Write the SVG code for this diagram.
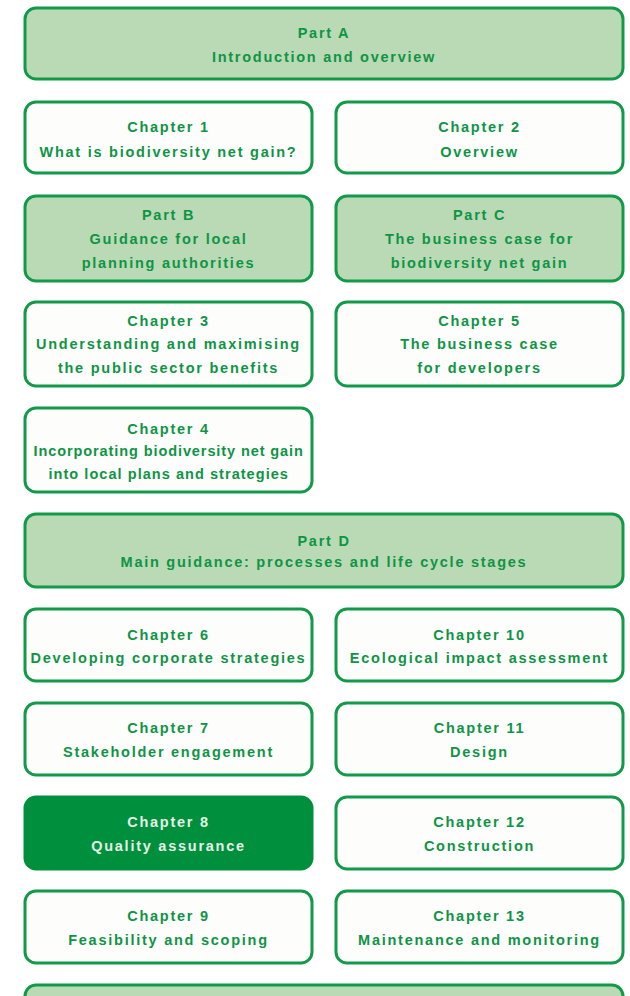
<svg xmlns="http://www.w3.org/2000/svg" width="630" height="996" viewBox="0 0 630 996">
  <style>
    .part rect { fill: #b9dab4; stroke: #13994a; stroke-width: 3; }
    .chap rect { fill: #fdfdfb; stroke: #13994a; stroke-width: 3; }
    .hl rect { fill: #008f3d; stroke: #008f3d; stroke-width: 3; }
    text { font-family: "Liberation Sans", Arial, sans-serif; font-size: 14.5px; font-weight: bold; letter-spacing: 1.75px; fill: #0f9446; text-anchor: middle; dominant-baseline: central; }
    .tight { letter-spacing: 0.6px; }
    .hl text { fill: #e4f3e6; }
  </style>

  <!-- Part A -->
  <g id="partA" class="part">
    <rect x="25" y="8" width="598" height="71" rx="11"/>
    <text x="324" y="33">Part A</text>
    <text x="324" y="57">Introduction and overview</text>
  </g>

  <g id="ch1" class="chap">
    <rect x="25" y="102" width="287" height="71" rx="11"/>
    <text x="168.5" y="127">Chapter 1</text>
    <text x="168.5" y="152">What is biodiversity net gain?</text>
  </g>
  <g id="ch2" class="chap">
    <rect x="336" y="102" width="287" height="71" rx="11"/>
    <text x="479.5" y="127">Chapter 2</text>
    <text x="479.5" y="152">Overview</text>
  </g>

  <!-- Parts B and C -->
  <g id="partB" class="part">
    <rect x="25" y="196" width="287" height="85" rx="11"/>
    <text x="168.5" y="215">Part B</text>
    <text x="168.5" y="239">Guidance for local</text>
    <text x="168.5" y="263">planning authorities</text>
  </g>
  <g id="partC" class="part">
    <rect x="336" y="196" width="287" height="85" rx="11"/>
    <text x="479.5" y="215">Part C</text>
    <text x="479.5" y="239">The business case for</text>
    <text x="479.5" y="263">biodiversity net gain</text>
  </g>

  <g id="ch3" class="chap">
    <rect x="25" y="302" width="287" height="84" rx="11"/>
    <text x="168.5" y="321">Chapter 3</text>
    <text x="168.5" y="344">Understanding and maximising</text>
    <text x="168.5" y="368">the public sector benefits</text>
  </g>
  <g id="ch5" class="chap">
    <rect x="336" y="302" width="287" height="84" rx="11"/>
    <text x="479.5" y="321">Chapter 5</text>
    <text x="479.5" y="344">The business case</text>
    <text x="479.5" y="368">for developers</text>
  </g>

  <g id="ch4" class="chap">
    <rect x="25" y="408" width="287" height="84" rx="11"/>
    <text x="168.5" y="429">Chapter 4</text>
    <text class="tight" x="168.5" y="451" textLength="270" lengthAdjust="spacing">Incorporating biodiversity net gain</text>
    <text class="tight" x="168.5" y="474" textLength="240" lengthAdjust="spacing">into local plans and strategies</text>
  </g>

  <!-- Part D -->
  <g id="partD" class="part">
    <rect x="25" y="514" width="598" height="73" rx="11"/>
    <text x="324" y="541">Part D</text>
    <text x="324" y="562">Main guidance: processes and life cycle stages</text>
  </g>

  <g id="ch6" class="chap">
    <rect x="25" y="609" width="287" height="72" rx="11"/>
    <text x="168.5" y="635">Chapter 6</text>
    <text x="168.5" y="658">Developing corporate strategies</text>
  </g>
  <g id="ch10" class="chap">
    <rect x="336" y="609" width="287" height="72" rx="11"/>
    <text x="479.5" y="635">Chapter 10</text>
    <text x="479.5" y="658">Ecological impact assessment</text>
  </g>

  <g id="ch7" class="chap">
    <rect x="25" y="703" width="287" height="72" rx="11"/>
    <text x="168.5" y="728">Chapter 7</text>
    <text x="168.5" y="752">Stakeholder engagement</text>
  </g>
  <g id="ch11" class="chap">
    <rect x="336" y="703" width="287" height="72" rx="11"/>
    <text x="479.5" y="728">Chapter 11</text>
    <text x="479.5" y="752">Design</text>
  </g>

  <g id="ch8" class="hl">
    <rect x="25" y="797" width="287" height="72" rx="11"/>
    <text x="168.5" y="822">Chapter 8</text>
    <text x="168.5" y="846">Quality assurance</text>
  </g>
  <g id="ch12" class="chap">
    <rect x="336" y="797" width="287" height="72" rx="11"/>
    <text x="479.5" y="822">Chapter 12</text>
    <text x="479.5" y="846">Construction</text>
  </g>

  <g id="ch9" class="chap">
    <rect x="25" y="891" width="287" height="72" rx="11"/>
    <text x="168.5" y="916">Chapter 9</text>
    <text x="168.5" y="940">Feasibility and scoping</text>
  </g>
  <g id="ch13" class="chap">
    <rect x="336" y="891" width="287" height="72" rx="11"/>
    <text x="479.5" y="916">Chapter 13</text>
    <text x="479.5" y="940">Maintenance and monitoring</text>
  </g>

  <!-- next part, running off the bottom edge -->
  <g id="partE" class="part">
    <rect x="25" y="985" width="598" height="72" rx="11"/>
  </g>

  <g id="connectors"></g>
</svg>
